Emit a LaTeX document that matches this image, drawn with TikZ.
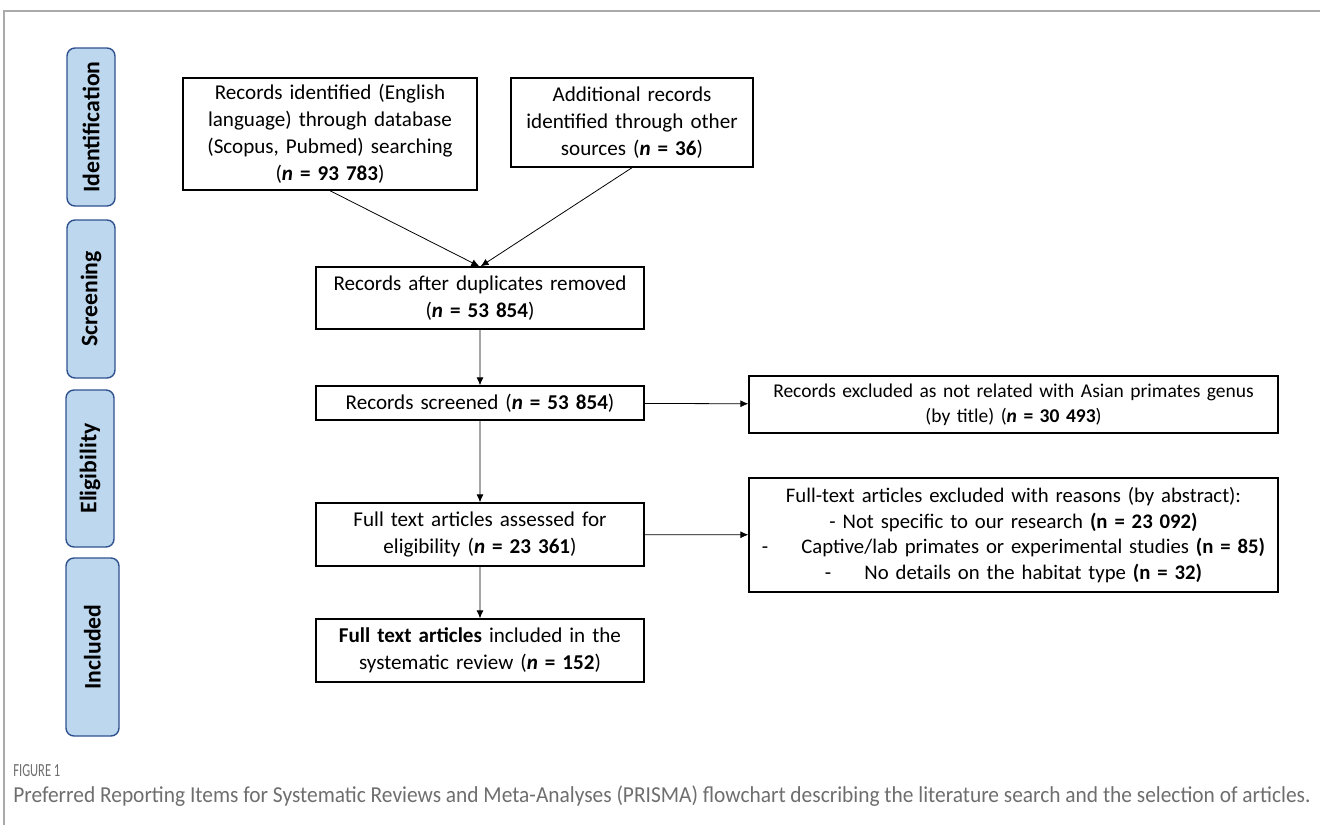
\documentclass[tikz,border=0pt]{standalone}
\usepackage{amsmath}
\usepackage{xcolor}
\usepackage{graphicx}
\usepackage{fontspec}
\setmainfont{Carlito}
\usepackage{tikz}
\usetikzlibrary{arrows.meta}
\definecolor{phasefill}{RGB}{189,215,238}
\definecolor{phaseline}{RGB}{47,82,143}
\definecolor{framegray}{RGB}{170,170,170}
\definecolor{capgray}{RGB}{110,110,110}

\begin{document}
\begin{tikzpicture}[scale=0.2]
\tikzstyle{every node}+=[font=\fontsize{12}{15.4}\selectfont]
\tikzstyle{flowbox}=[draw=black, line width=0.8pt, align=center, inner sep=0pt]
\tikzstyle{phasebox}=[draw=phaseline, fill=phasefill, line width=0.8pt, rounded corners=0.16cm, rotate=90, inner sep=0pt, font=\fontsize{13.5}{16}\selectfont\bfseries]
\tikzstyle{arr}=[black, line width=0.45pt, -{Latex[length=4.5pt,width=4pt]}]
\useasboundingbox (0,0) rectangle (132,-82.5);
\draw [framegray, line width=1pt] (0.4,-82.5) -- (0.4,-1.1) -- (132,-1.1);
\node [phasebox, minimum width=3.16cm, minimum height=0.96cm] (ident) at (9.1,-12.7) {Identification};
\node [phasebox, minimum width=3.16cm, minimum height=0.96cm] (screen) at (9.1,-29.9) {Screening};
\node [phasebox, minimum width=3.14cm, minimum height=0.96cm] (elig) at (9.0,-46.85) {Eligibility};
\node [phasebox, minimum width=3.56cm, minimum height=1.06cm] (incl) at (9.25,-64.7) {Included};
\node [flowbox, text width=5.88cm, minimum height=2.24cm] (dbrec) at (33.0,-13.4) {Records identified (English\\language) through database\\(Scopus, Pubmed) searching\\(\textbf{\textit{n} = 93 783})};
\node [flowbox, text width=4.84cm, minimum height=1.78cm] (otherrec) at (63.2,-12.25) {Additional records\\identified through other\\sources (\textbf{\textit{n} = 36})};
\node [flowbox, text width=6.56cm, minimum height=1.24cm] (dedup) at (48.0,-29.8) {Records after duplicates removed\\(\textbf{\textit{n} = 53 854})};
\node [flowbox, text width=6.56cm, minimum height=0.68cm] (screened) at (48.0,-40.3) {Records screened (\textbf{\textit{n} = 53 854})};
\node [flowbox, text width=6.56cm, minimum height=1.26cm] (fulltext) at (48.0,-53.45) {Full text articles assessed for\\eligibility (\textbf{\textit{n} = 23 361})};
\node [flowbox, text width=6.56cm, minimum height=1.26cm] (included) at (48.0,-65.05) {\textbf{Full text articles} included in the\\systematic review (\textbf{\textit{n} = 152})};
\node [flowbox, text width=10.58cm, minimum height=1.14cm, font=\fontsize{11.1}{14.2}\selectfont] (exctitle) at (101.35,-40.45) {Records excluded as not related with Asian primates genus\\(by title) (\textbf{\textit{n} = 30 493})};
\node [flowbox, text width=10.58cm, minimum height=2.28cm, font=\fontsize{11.8}{14.6}\selectfont] (excabs) at (101.35,-53.5) {Full-text articles excluded with reasons (by abstract):\\- Not specific to our research \textbf{(n = 23 092)}\\-\hspace{1.6em}Captive/lab primates or experimental studies \textbf{(n = 85)}\\-\hspace{1.6em}No details on the habitat type \textbf{(n = 32)}};
\draw [arr] (dbrec.south) -- ([xshift=-0.07cm]dedup.north);
\draw [arr] (otherrec.south) -- ([xshift=0.07cm]dedup.north);
\draw [arr] (dedup) -- (screened);
\draw [arr] (screened) -- (fulltext);
\draw [arr] (fulltext) -- (included);
\draw [arr] (screened) -- (exctitle);
\draw [arr] (fulltext) -- (excabs);
\node [anchor=base west, inner sep=0pt, text=capgray, font=\fontsize{10.5}{12}\selectfont] (figlabel) at (1.3,-77.6) {\resizebox{0.94cm}{\height}{FIGURE 1}};
\node [anchor=base west, inner sep=0pt, text=capgray, font=\fontsize{13}{15}\selectfont] (caption) at (1.3,-80.2) {\resizebox{25.94cm}{\height}{Preferred Reporting Items for Systematic Reviews and Meta-Analyses (PRISMA) flowchart describing the literature search and the selection of articles.}};
\end{tikzpicture}
\end{document}
